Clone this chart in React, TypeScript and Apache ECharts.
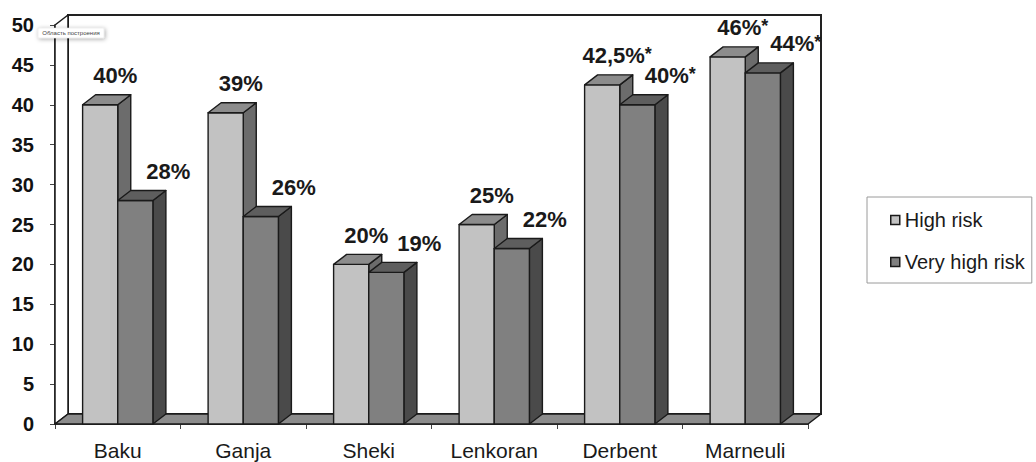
import React, { useEffect, useRef } from 'react';
import * as echarts from 'echarts';

const categories = ['Baku', 'Ganja', 'Sheki', 'Lenkoran', 'Derbent', 'Marneuli'];
const highRisk = [40, 39, 20, 25, 42.5, 46];
const veryHighRisk = [28, 26, 19, 22, 40, 44];
const highRiskLabels = ['40%', '39%', '20%', '25%', '42,5%*', '46%*'];
const veryHighRiskLabels = ['28%', '26%', '19%', '22%', '40%*', '44%*'];
const seriesNames = ['High risk', 'Very high risk'];
const plotAreaHint = 'Область построения';

const FONT = '"Liberation Sans", Arial, sans-serif';
const DX = 13;
const DY = -10;
const INK = '#1a1a1a';

const highColors = { front: '#c2c2c2', top: '#8c8c8c', side: '#6c6c6c' };
const vhColors = { front: '#808080', top: '#5e5e5e', side: '#4a4a4a' };

function labelText(s: string) {
  if (s.endsWith('*')) return '{m|' + s.slice(0, -1) + '}{s|*}';
  return '{m|' + s + '}';
}

function makeBarRender(isHigh: boolean, labels: string[], c: any, labelDx: number) {
  return (params: any, api: any) => {
    const i = api.value(0);
    const v = api.value(1);
    const top = api.coord([i, v]);
    const base = api.coord([i, 0]);
    const band = api.size([1, 0])[0];
    const w = band * 0.28;
    const left = isHigh ? top[0] - w : top[0];
    const right = left + w;
    const ty = top[1];
    const by = base[1];
    const stroke = { stroke: INK, lineWidth: 1.4, lineJoin: 'round' };
    return {
      type: 'group',
      children: [
        {
          type: 'polygon',
          shape: { points: [[right, ty], [right + DX, ty + DY], [right + DX, by + DY], [right, by]] },
          style: { fill: c.side, ...stroke },
        },
        {
          type: 'rect',
          shape: { x: left, y: ty, width: w, height: by - ty },
          style: { fill: c.front, ...stroke },
        },
        {
          type: 'polygon',
          shape: { points: [[left, ty], [left + DX, ty + DY], [right + DX, ty + DY], [right, ty]] },
          style: { fill: c.top, ...stroke },
        },
        {
          type: 'text',
          x: left + w / 2 + labelDx,
          y: ty - 29,
          style: {
            text: labelText(labels[params.dataIndex]),
            align: 'center',
            verticalAlign: 'middle',
            rich: {
              m: { fontFamily: FONT, fontSize: 22, fontWeight: 'bold', fill: INK, color: INK },
              s: { fontFamily: FONT, fontSize: 18, fontWeight: 'bold', fill: INK, color: INK, verticalAlign: 'top', padding: [0, 0, 4, 0] },
            },
          },
        },
      ],
    };
  };
}

function frameRender(params: any) {
  const cs = params.coordSys;
  const x0 = cs.x;
  const x1 = cs.x + cs.width;
  const yt = cs.y;
  const yb = cs.y + cs.height;
  const stroke = { stroke: INK, lineWidth: 1.5, lineJoin: 'round' };
  return {
    type: 'group',
    children: [
      {
        type: 'rect',
        shape: { x: x0 + DX, y: yt + DY, width: x1 - x0, height: yb - yt },
        style: { fill: '#ffffff', stroke: '#222', lineWidth: 2 },
      },
      {
        type: 'polygon',
        shape: { points: [[x0, yb], [x0, yt], [x0 + DX, yt + DY], [x0 + DX, yb + DY]] },
        style: { fill: '#ffffff', ...stroke },
      },
      {
        type: 'polygon',
        shape: { points: [[x0, yb], [x0 + DX, yb + DY], [x1 + DX, yb + DY], [x1, yb]] },
        style: { fill: '#8c8c8c', ...stroke },
      },
    ],
  };
}

export default function App() {
  const ref = useRef<HTMLDivElement>(null);
  useEffect(() => {
    if (!ref.current) return;
    const chart = echarts.init(ref.current, null, { renderer: 'svg' });
    chart.setOption({
      animation: false,
      backgroundColor: '#ffffff',
      grid: { left: 55, right: 228, top: 25, bottom: 38 },
      xAxis: {
        type: 'category',
        data: categories,
        boundaryGap: true,
        axisLine: { show: true, lineStyle: { color: INK, width: 1.5 } },
        axisTick: { show: true, length: 5, lineStyle: { color: '#444' } },
        axisLabel: { fontFamily: FONT, fontSize: 21, color: INK, margin: 16 },
        splitLine: { show: false },
      },
      yAxis: {
        type: 'value',
        min: 0,
        max: 50,
        interval: 5,
        axisLine: { show: true, lineStyle: { color: INK, width: 1.5 } },
        axisTick: { show: true, length: 5, lineStyle: { color: '#444' } },
        axisLabel: { fontFamily: FONT, fontSize: 20, fontWeight: 'bold', color: '#111', margin: 21 },
        splitLine: { show: false },
      },
      legend: {
        orient: 'vertical',
        left: 867,
        top: 197,
        selectedMode: false,
        itemWidth: 9,
        itemHeight: 9,
        itemGap: 22,
        padding: [13, 7, 11, 23],
        borderColor: '#9a9a9a',
        borderWidth: 1,
        textStyle: { fontFamily: FONT, fontSize: 20, color: INK },
        data: [
          { name: seriesNames[0], icon: 'rect', itemStyle: { color: highColors.front, borderColor: INK, borderWidth: 1.5 } },
          { name: seriesNames[1], icon: 'rect', itemStyle: { color: vhColors.front, borderColor: INK, borderWidth: 1.5 } },
        ],
      },
      graphic: [
        {
          type: 'rect',
          z: 100,
          shape: { x: 38, y: 28, width: 66, height: 10 },
          style: { fill: '#ffffff', stroke: '#dddddd', lineWidth: 0.5, shadowBlur: 4, shadowColor: 'rgba(0,0,0,0.35)', shadowOffsetX: 1, shadowOffsetY: 1 },
        },
        {
          type: 'text',
          z: 101,
          x: 71,
          y: 33,
          style: { text: plotAreaHint, align: 'center', verticalAlign: 'middle', fontSize: 6, fontFamily: FONT, fill: '#444' },
        },
      ],
      series: [
        {
          name: 'frame',
          type: 'custom',
          z: 1,
          silent: true,
          clip: false,
          renderItem: frameRender,
          data: [[0, 0]],
          encode: { x: 0, y: 1 },
        },
        {
          name: seriesNames[0],
          type: 'custom',
          z: 3,
          clip: false,
          itemStyle: { color: highColors.front },
          renderItem: makeBarRender(true, highRiskLabels, highColors, 15),
          data: highRisk.map((v, i) => [i, v]),
          encode: { x: 0, y: 1 },
        },
        {
          name: seriesNames[1],
          type: 'custom',
          z: 4,
          clip: false,
          itemStyle: { color: vhColors.front },
          renderItem: makeBarRender(false, veryHighRiskLabels, vhColors, 33),
          data: veryHighRisk.map((v, i) => [i, v]),
          encode: { x: 0, y: 1 },
        },
      ],
    });
    return () => chart.dispose();
  }, []);
  return <div ref={ref} style={{ position: 'absolute', left: 0, top: 0, width: 1036, height: 462 }} />;
}
